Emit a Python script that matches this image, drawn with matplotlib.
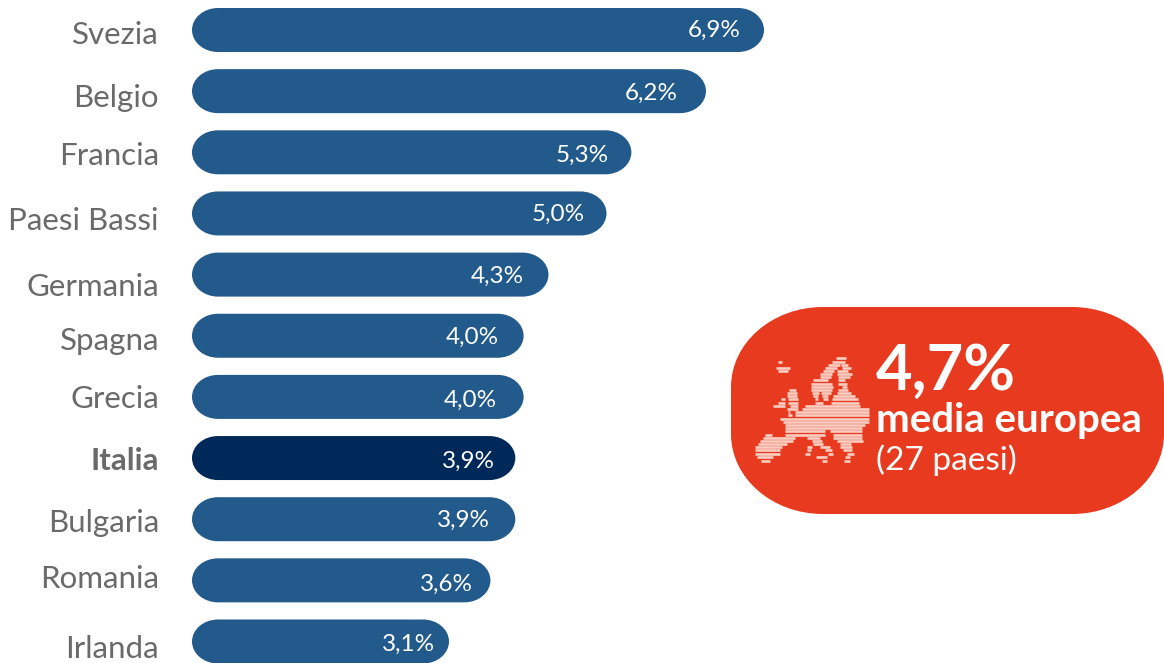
#!/usr/bin/env python
"""Horizontal pill-shaped bars by country, with a badge for the European mean."""

import matplotlib
matplotlib.use("Agg")
import matplotlib.pyplot as plt
from matplotlib.patches import PathPatch
from matplotlib.path import Path

countries = ["Svezia", "Belgio", "Francia", "Paesi Bassi", "Germania", "Spagna",
             "Grecia", "Italia", "Bulgaria", "Romania", "Irlanda"]
values = [6.9, 6.2, 5.3, 5.0, 4.3, 4.0, 4.0, 3.9, 3.9, 3.6, 3.1]

# small hand adjustments of the labels, in pixels
name_dy = [-5, -7, -4, -8, -12, -5, -2, -3, -4, 1, -7]
value_dx = [-50, -55, -49, -48, -51, -51, -53, -47, -52, -44, -40]
value_dy = [0, -2, -3, -1, -2, -2, -3, -3, -1, -4, -3]

# stripes of the Europe icon: row, then (start, end) spans, in icon units
map_rows = [
    (40, [(272, 302)]),
    (50, [(98, 110), (262, 300)]),
    (59, [(250, 285), (287, 308)]),
    (68, [(92, 135), (240, 275), (290, 318)]),
    (78, [(98, 130), (235, 268), (275, 310)]),
    (87, [(225, 262), (275, 322)]),
    (97, [(225, 258), (280, 315)]),
    (106, [(205, 250), (278, 300)]),
    (116, [(197, 262), (280, 305)]),
    (125, [(197, 265), (290, 305)]),
    (135, [(132, 152), (197, 262), (280, 308)]),
    (144, [(125, 155), (200, 222), (228, 258), (275, 318)]),
    (154, [(125, 155), (205, 218), (230, 250), (265, 330)]),
    (163, [(108, 120), (128, 158), (210, 218), (235, 248), (262, 338)]),
    (173, [(100, 120), (130, 158), (210, 235), (258, 342)]),
    (183, [(85, 120), (135, 160), (180, 345)]),
    (192, [(125, 160), (170, 372)]),
    (202, [(130, 135), (150, 372)]),
    (211, [(130, 140), (150, 372)]),
    (221, [(105, 372)]),
    (230, [(115, 372)]),
    (240, [(120, 360)]),
    (250, [(120, 350)]),
    (259, [(120, 240), (255, 350)]),
    (269, [(60, 80), (120, 240), (265, 350)]),
    (278, [(55, 150), (185, 225), (265, 350)]),
    (288, [(45, 145), (200, 230), (275, 355)]),
    (297, [(40, 125), (205, 235), (285, 318)]),
    (307, [(30, 110), (185, 200), (225, 255), (285, 320)]),
    (316, [(30, 105), (185, 198), (240, 262), (295, 320)]),
    (326, [(30, 105), (180, 195), (250, 265), (305, 328)]),
    (335, [(35, 85), (212, 245), (300, 315)]),
    (347, [(48, 75), (232, 245), (298, 315)]),
]

W, H = 1164, 663
PX_PER_UNIT = 82.9
ROW_PX = 61.15
X0_PX, Y0_PX = 192, 30
BAR_PX = 44

BLUE = "#235A8C"
DARK = "#00295A"
RED = "#E73A1F"
GREY = "#6A6A6A"


def rounded_box(x, y, w, h, rx, ry):
    """Box with elliptical corners, built from cubic segments."""
    kx, ky = rx * 0.5523, ry * 0.5523
    x1, y1 = x + w, y + h
    verts = [(x + rx, y), (x1 - rx, y),
             (x1 - rx + kx, y), (x1, y + ry - ky), (x1, y + ry),
             (x1, y1 - ry),
             (x1, y1 - ry + ky), (x1 - rx + kx, y1), (x1 - rx, y1),
             (x + rx, y1),
             (x + rx - kx, y1), (x, y1 - ry + ky), (x, y1 - ry),
             (x, y + ry),
             (x, y + ry - ky), (x + rx - kx, y), (x + rx, y),
             (x + rx, y)]
    codes = [Path.MOVETO, Path.LINETO,
             Path.CURVE4, Path.CURVE4, Path.CURVE4,
             Path.LINETO,
             Path.CURVE4, Path.CURVE4, Path.CURVE4,
             Path.LINETO,
             Path.CURVE4, Path.CURVE4, Path.CURVE4,
             Path.LINETO,
             Path.CURVE4, Path.CURVE4, Path.CURVE4,
             Path.CLOSEPOLY]
    return Path(verts, codes)


plt.rcParams["font.family"] = ["Lato", "DejaVu Sans"]

fig = plt.figure(figsize=(W / 100, H / 100), dpi=100)
ax = fig.add_axes([0, 0, 1, 1])
ax.set_xlim(-X0_PX / PX_PER_UNIT, (W - X0_PX) / PX_PER_UNIT)
ax.set_ylim((H - Y0_PX) / ROW_PX, -Y0_PX / ROW_PX)
ax.axis("off")

bar_h = BAR_PX / ROW_PX
rx = 26 / PX_PER_UNIT
for i, (name, val) in enumerate(zip(countries, values)):
    color = DARK if name == "Italia" else BLUE
    ax.add_patch(PathPatch(rounded_box(0, i - bar_h / 2, val, bar_h, rx, bar_h / 2),
                           fc=color, ec="none"))
    ax.annotate(name, xy=(0, i), xytext=(-33, name_dy[i]), textcoords="offset pixels",
                ha="right", va="center", fontsize=22.5, color=GREY,
                fontweight="bold" if name == "Italia" else "regular")
    ax.annotate(("%.1f%%" % val).replace(".", ","), xy=(val, i),
                xytext=(value_dx[i], value_dy[i]), textcoords="offset pixels",
                ha="center", va="center", fontsize=17.5, color="white")

# overlay in pixel coordinates for the badge
over = fig.add_axes([0, 0, 1, 1])
over.set_xlim(0, W)
over.set_ylim(H, 0)
over.axis("off")
over.patch.set_alpha(0)

over.add_patch(PathPatch(rounded_box(731, 307, 433, 207, 92, 80), fc=RED, ec="none"))
for row, spans in map_rows:
    for start, end in spans:
        over.plot([745 + start / 3, 745 + end / 3], [345 + row / 3, 345 + row / 3],
                  color="#F9CFC4", lw=1.9, solid_capstyle="butt")

over.text(876, 390, "4,7%", fontsize=45.5, color="white", fontweight="bold",
          ha="left", va="baseline")
over.text(876, 432, "media europea", fontsize=29, color="white", fontweight="bold",
          ha="left", va="baseline")
over.text(876, 470, "(27 paesi)", fontsize=24, color="white", fontweight="regular",
          ha="left", va="baseline")

fig.savefig("out.png", dpi=100)
